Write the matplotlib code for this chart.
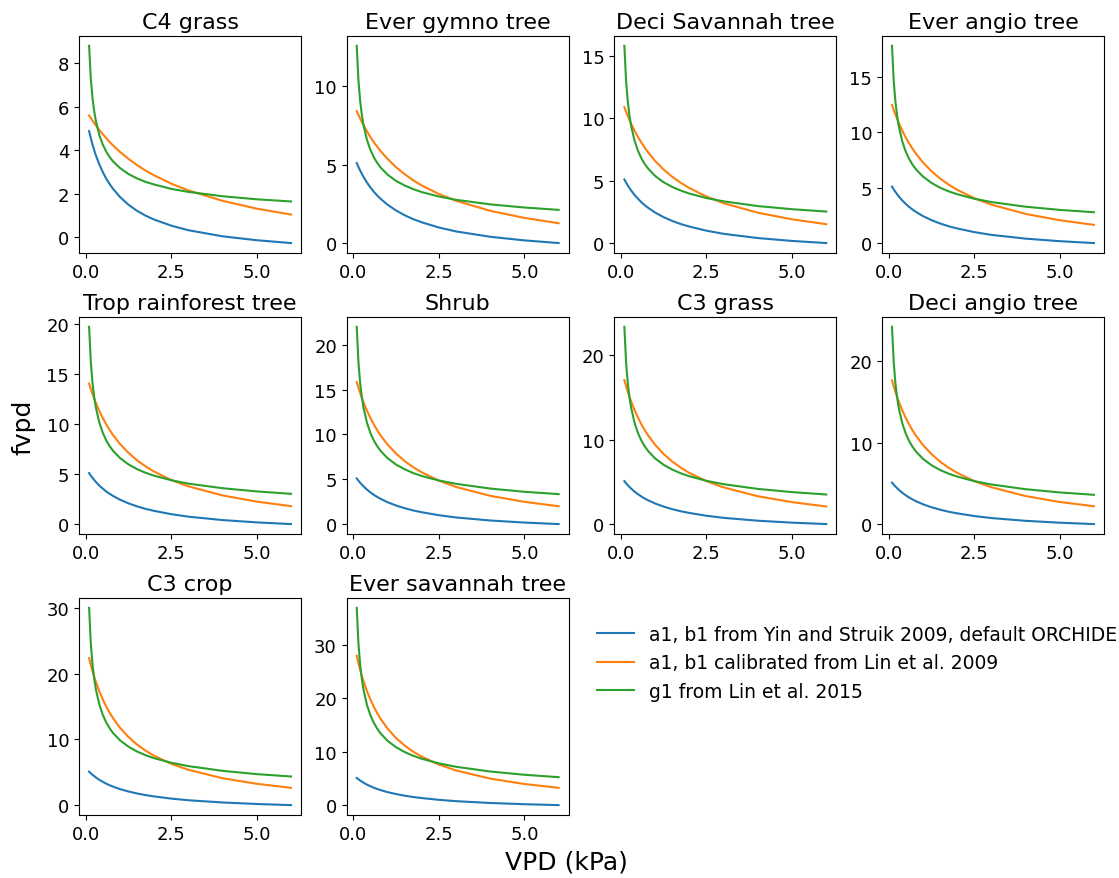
import numpy as np
import matplotlib
matplotlib.use('Agg')
import matplotlib.pyplot as plt

vpd = [0.1, 0.15, 0.2, 0.25, 0.3, 0.4, 0.5, 0.6, 0.7, 0.8, 1.0, 1.25, 1.5, 1.75, 2.0, 2.5, 3.0, 4.0, 5.0, 6.0]

pft_names = ['C4 grass', 'Ever gymno tree', 'Deci Savannah tree', 'Ever angio tree',
             'Trop rainforest tree', 'Shrub', 'C3 grass', 'Deci angio tree',
             'C3 crop', 'Ever savannah tree']

# default ORCHIDEE curve (a1, b1 from Yin and Struik 2009)
blue_c3 = [5.10, 4.85, 4.62, 4.41, 4.21, 3.85, 3.55, 3.27, 3.03, 2.82, 2.45, 2.08, 1.78, 1.53, 1.33, 1.00, 0.75, 0.41, 0.18, 0.01]
blue_c4 = [4.88, 4.56, 4.26, 4.00, 3.76, 3.35, 3.00, 2.70, 2.45, 2.23, 1.86, 1.50, 1.22, 1.00, 0.82, 0.54, 0.33, 0.05, -0.13, -0.26]

# a1, b1 calibrated from Lin et al. 2009
orange_c4grass = [5.60, 5.48, 5.36, 5.25, 5.14, 4.93, 4.74, 4.56, 4.38, 4.22, 3.93, 3.61, 3.32, 3.07, 2.85, 2.47, 2.16, 1.68, 1.32, 1.05]
orange_evergymno = [8.40, 8.16, 7.93, 7.71, 7.50, 7.11, 6.75, 6.42, 6.13, 5.85, 5.36, 4.83, 4.39, 4.00, 3.67, 3.13, 2.70, 2.06, 1.61, 1.27]
orange_decisav = [10.88, 10.52, 10.18, 9.85, 9.55, 8.99, 8.49, 8.04, 7.62, 7.25, 6.58, 5.89, 5.31, 4.83, 4.41, 3.73, 3.20, 2.44, 1.91, 1.52]
orange_everangio = [12.46, 12.01, 11.59, 11.20, 10.83, 10.15, 9.54, 9.00, 8.51, 8.07, 7.30, 6.50, 5.84, 5.29, 4.82, 4.06, 3.48, 2.64, 2.07, 1.65]
orange_troprain = [14.03, 13.50, 12.99, 12.53, 12.09, 11.30, 10.60, 9.97, 9.41, 8.90, 8.02, 7.12, 6.38, 5.77, 5.25, 4.41, 3.78, 2.87, 2.25, 1.80]
orange_shrub = [15.84, 15.21, 14.62, 14.07, 13.56, 12.64, 11.83, 11.11, 10.46, 9.88, 8.88, 7.87, 7.04, 6.35, 5.78, 4.85, 4.15, 3.16, 2.49, 2.00]
orange_c3grass = [17.07, 16.36, 15.70, 15.10, 14.53, 13.51, 12.61, 11.82, 11.12, 10.49, 9.41, 8.31, 7.42, 6.69, 6.07, 5.10, 4.36, 3.31, 2.61, 2.10]
orange_deciangio = [17.63, 16.90, 16.22, 15.60, 15.01, 13.96, 13.04, 12.23, 11.50, 10.85, 9.73, 8.60, 7.69, 6.93, 6.30, 5.29, 4.53, 3.45, 2.72, 2.20]
orange_c3crop = [22.35, 21.32, 20.39, 19.52, 18.73, 17.31, 16.08, 15.01, 14.06, 13.22, 11.79, 10.36, 9.22, 8.29, 7.51, 6.29, 5.38, 4.10, 3.25, 2.64]
orange_eversav = [28.00, 26.64, 25.39, 24.26, 23.22, 21.38, 19.79, 18.42, 17.22, 16.15, 14.36, 12.58, 11.18, 10.03, 9.09, 7.61, 6.51, 4.98, 3.97, 3.25]

# g1 from Lin et al. 2015
green_c4grass = [8.80, 7.29, 6.40, 5.78, 5.33, 4.69, 4.26, 3.94, 3.69, 3.49, 3.19, 2.91, 2.71, 2.55, 2.43, 2.23, 2.09, 1.89, 1.75, 1.65]
green_evergymno = [12.55, 10.35, 9.04, 8.15, 7.49, 6.56, 5.93, 5.46, 5.10, 4.81, 4.36, 3.96, 3.67, 3.44, 3.25, 2.97, 2.76, 2.47, 2.27, 2.12]
green_decisav = [15.80, 13.00, 11.34, 10.20, 9.36, 8.18, 7.38, 6.78, 6.32, 5.95, 5.38, 4.87, 4.50, 4.21, 3.97, 3.61, 3.35, 2.97, 2.72, 2.53]
green_everangio = [17.80, 14.64, 12.75, 11.47, 10.52, 9.18, 8.27, 7.60, 7.08, 6.66, 6.02, 5.44, 5.01, 4.68, 4.42, 4.01, 3.71, 3.29, 3.00, 2.79]
green_troprain = [19.70, 16.19, 14.09, 12.67, 11.61, 10.13, 9.12, 8.37, 7.79, 7.33, 6.61, 5.97, 5.50, 5.13, 4.84, 4.39, 4.05, 3.59, 3.27, 3.03]
green_shrub = [22.00, 18.07, 15.73, 14.13, 12.95, 11.29, 10.16, 9.33, 8.68, 8.16, 7.36, 6.64, 6.12, 5.70, 5.37, 4.87, 4.50, 3.97, 3.61, 3.35]
green_c3grass = [23.40, 19.21, 16.71, 15.01, 13.75, 11.99, 10.78, 9.89, 9.20, 8.64, 7.79, 7.03, 6.47, 6.03, 5.68, 5.14, 4.74, 4.18, 3.80, 3.52]
green_deciangio = [24.20, 19.86, 17.27, 15.51, 14.20, 12.37, 11.13, 10.20, 9.49, 8.91, 8.03, 7.24, 6.65, 6.20, 5.84, 5.28, 4.87, 4.29, 3.89, 3.60]
green_c3crop = [30.00, 24.60, 21.38, 19.18, 17.56, 15.28, 13.73, 12.58, 11.69, 10.97, 9.87, 8.89, 8.16, 7.60, 7.14, 6.45, 5.94, 5.22, 4.72, 4.36]
green_eversav = [37.00, 30.31, 26.32, 23.60, 21.59, 18.77, 16.85, 15.43, 14.32, 13.43, 12.07, 10.86, 9.96, 9.26, 8.70, 7.84, 7.20, 6.31, 5.70, 5.25]

blue_curves = [blue_c4] + [blue_c3] * 9
orange_curves = [orange_c4grass, orange_evergymno, orange_decisav, orange_everangio, orange_troprain,
                 orange_shrub, orange_c3grass, orange_deciangio, orange_c3crop, orange_eversav]
green_curves = [green_c4grass, green_evergymno, green_decisav, green_everangio, green_troprain,
                green_shrub, green_c3grass, green_deciangio, green_c3crop, green_eversav]

ytick_step = [2, 5, 5, 5, 5, 5, 10, 10, 10, 10]
ytick_max = [8, 10, 15, 15, 20, 20, 20, 20, 30, 30]

legend_labels = ['a1, b1 from Yin and Struik 2009, default ORCHIDEE',
                 'a1, b1 calibrated from Lin et al. 2009',
                 'g1 from Lin et al. 2015']

fig, axes = plt.subplots(3, 4, figsize=(11.19, 8.79), dpi=100)
plt.subplots_adjust(left=0.0706, right=0.9866, bottom=0.0717, top=0.958, wspace=0.205, hspace=0.295)

for i, ax in enumerate(axes.flat):
    if i >= len(pft_names):
        ax.axis('off')
        continue
    l1, = ax.plot(vpd, blue_curves[i], color='tab:blue', lw=1.5)
    l2, = ax.plot(vpd, orange_curves[i], color='tab:orange', lw=1.5)
    l3, = ax.plot(vpd, green_curves[i], color='tab:green', lw=1.5)
    ax.set_title(pft_names[i], fontsize=16)
    ax.set_xticks([0, 2.5, 5.0])
    ax.set_yticks(np.arange(0, ytick_max[i] + 0.1, ytick_step[i]))
    ax.tick_params(labelsize=13)

fig.legend([l1, l2, l3], legend_labels, loc='upper left', bbox_to_anchor=(0.518, 0.307),
           frameon=False, fontsize=13.5)

fig.text(0.021, 0.514, 'fvpd', rotation=90, ha='center', va='center', fontsize=18)
fig.text(0.506, 0.019, 'VPD (kPa)', ha='center', va='center', fontsize=18)

plt.savefig('out.png', dpi=100)
